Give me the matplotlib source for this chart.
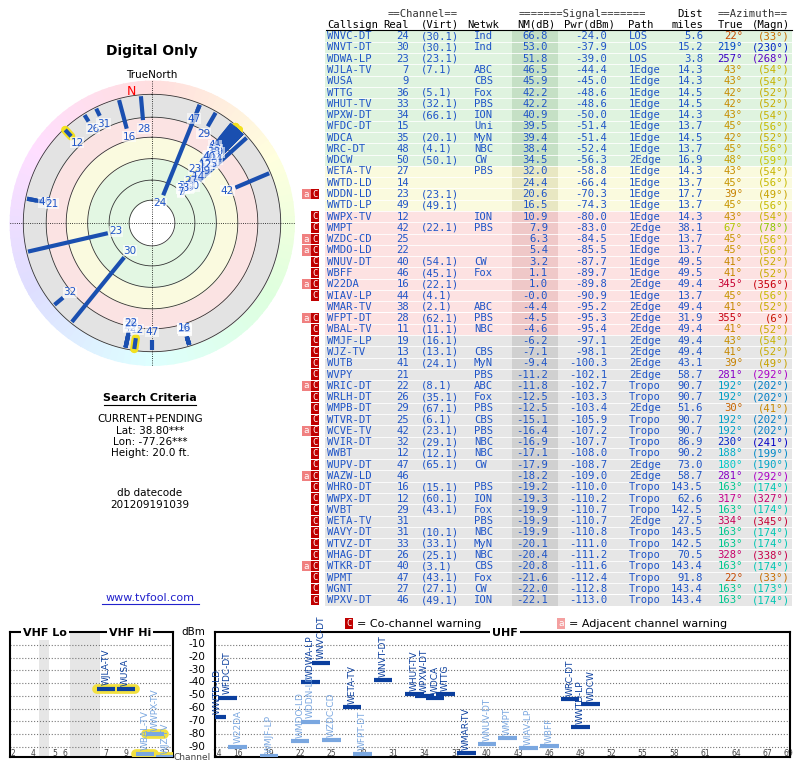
import numpy as np
import matplotlib.pyplot as plt
import colorsys

# ---- station data ----
callsign = ['WNVC-DT','WNVT-DT','WDWA-LP','WJLA-TV','WUSA','WTTG','WHUT-TV','WPXW-DT','WFDC-DT','WDCA',
            'WRC-DT','WDCW','WETA-TV','WWTD-LD','WDDN-LD','WWTD-LP','WWPX-TV','WMPT','WZDC-CD','WMDO-LD',
            'WNUV-DT','WBFF','W22DA','WIAV-LP','WMAR-TV','WFPT-DT','WBAL-TV','WMJF-LP','WJZ-TV','WUTB',
            'WVPY','WRIC-DT','WRLH-DT','WMPB-DT','WTVR-DT','WCVE-TV','WVIR-DT','WWBT','WUPV-DT','WAZW-LD',
            'WHRO-DT','WWPX-DT','WVBT','WETA-TV','WAVY-DT','WTVZ-DT','WHAG-DT','WTKR-DT','WPMT','WGNT','WPXV-DT']
real = [24,30,23,7,9,36,33,34,15,35,48,50,27,14,23,49,12,42,25,22,40,46,16,44,38,28,11,19,13,41,
        21,22,26,29,25,42,32,12,47,46,16,12,29,31,31,33,26,40,47,27,46]
virt = ['30.1','30.1','23.1','7.1','','5.1','32.1','66.1','','20.1','4.1','50.1','','','23.1','49.1','','22.1','','',
        '54.1','45.1','22.1','4.1','2.1','62.1','11.1','16.1','13.1','24.1','','8.1','35.1','67.1','6.1','23.1',
        '29.1','12.1','65.1','','15.1','60.1','43.1','','10.1','33.1','25.1','3.1','43.1','27.1','49.1']
netwk = ['Ind','Ind','','ABC','CBS','Fox','PBS','ION','Uni','MyN','NBC','CW','PBS','','','','ION','PBS','','',
         'CW','Fox','','','ABC','PBS','NBC','','CBS','MyN','PBS','ABC','Fox','PBS','CBS','PBS','NBC','NBC','CW','',
         'PBS','ION','Fox','PBS','NBC','MyN','NBC','CBS','Fox','CW','ION']
nm = [66.8,53.0,51.8,46.5,45.9,42.2,42.2,40.9,39.5,39.4,38.4,34.5,32.0,24.4,20.6,16.5,10.9,7.9,6.3,5.4,
      3.2,1.1,1.0,-0.0,-4.4,-4.5,-4.6,-6.2,-7.1,-9.4,-11.2,-11.8,-12.5,-12.5,-15.1,-16.4,-16.9,-17.1,-17.9,-18.2,
      -19.2,-19.3,-19.9,-19.9,-19.9,-20.1,-20.4,-20.8,-21.6,-22.0,-22.1]
pwr = [-24.0,-37.9,-39.0,-44.4,-45.0,-48.6,-48.6,-50.0,-51.4,-51.4,-52.4,-56.3,-58.8,-66.4,-70.3,-74.3,-80.0,-83.0,-84.5,-85.5,
       -87.7,-89.7,-89.8,-90.9,-95.2,-95.3,-95.4,-97.1,-98.1,-100.3,-102.1,-102.7,-103.3,-103.4,-105.9,-107.2,-107.7,-108.0,-108.7,-109.0,
       -110.0,-110.2,-110.7,-110.7,-110.8,-111.0,-111.2,-111.6,-112.4,-112.8,-113.0]
path = ['LOS','LOS','LOS'] + ['1Edge']*8 + ['2Edge','1Edge','1Edge','1Edge','1Edge','1Edge','2Edge','1Edge','1Edge',
        '1Edge','1Edge','2Edge','1Edge','2Edge','2Edge','2Edge','2Edge','2Edge','2Edge','2Edge','Tropo','Tropo','2Edge',
        'Tropo','Tropo','Tropo','Tropo','2Edge','2Edge','Tropo','Tropo','Tropo','2Edge','Tropo','Tropo','Tropo','Tropo',
        'Tropo','Tropo','Tropo']
dist = [5.6,15.2,3.8,14.3,14.3,14.5,14.5,14.3,13.7,14.5,13.7,16.9,14.3,13.7,17.7,13.7,14.3,38.1,13.7,13.7,
        49.5,49.5,49.4,13.7,49.4,31.9,49.4,49.4,49.4,43.1,58.7,90.7,90.7,51.6,90.7,90.7,86.9,90.2,73.0,58.7,
        143.5,62.6,142.5,27.5,143.5,142.5,70.5,143.4,91.8,143.4,143.4]
az_true = [22,219,257,43,43,42,42,43,45,42,45,48,43,45,39,45,43,67,45,45,41,41,345,45,41,355,41,43,41,39,
           281,192,192,30,192,192,230,188,180,281,163,317,163,334,163,163,328,163,22,163,163]
az_magn = [33,230,268,54,54,52,52,54,56,52,56,59,54,56,49,56,54,78,56,56,52,52,356,56,52,6,52,54,52,49,
           292,202,202,41,202,202,241,199,190,292,174,327,174,345,174,174,338,174,33,173,174]
flags = ['']*14 + ['aC','','C','C','aC','aC','C','C','aC','C','','aC','C','C','C','C','C','aC','C','C','C','aC',
                   'C','C','C','aC','C','C','C','C','C','C','C','aC','C','C','C']

vhf_tick_ch = [2, 4, 5, 6, 7, 9, 11, 13]
uhf_tick_ch = [14, 16, 19, 22, 25, 28, 31, 34, 37, 40, 43, 46, 49, 52, 55, 58, 61, 64, 67, 69]
dbm_ticks = [-10, -20, -30, -40, -50, -60, -70, -80, -90]

BLUE = '#1f55c8'
DARK = '#0b3f9e'
LIGHT = '#7aa7e0'
mono = 'DejaVu Sans Mono'
FS = 7.6


def az_color(a, v=0.78, s=1.0):
    return colorsys.hsv_to_rgb((a % 360) / 360.0, s, v)


def row_bg(n):
    if n > 34:
        return '#dff3df', '#c5e0c5'
    if n > 14:
        return '#fafade', '#e8e7c2'
    if n > -5:
        return '#fde2e2', '#efc8c8'
    return '#e6e6e6', '#d0d0d0'


fig = plt.figure(figsize=(8, 7.68), dpi=100)
ax_t = fig.add_axes([0, 0, 1, 1])
ax_t.set_xlim(0, 800)
ax_t.set_ylim(768, 0)
ax_t.axis('off')

# ---- table ----
y0, rh = 30.5, 11.28
ax_t.text(423, 14, '==Channel==', family=mono, size=FS, ha='center', va='center', color='#333333')
ax_t.text(582, 14, '=======Signal=======', family=mono, size=FS, ha='center', va='center', color='#333333')
ax_t.text(690, 14, 'Dist', family=mono, size=FS, ha='center', va='center')
ax_t.text(753, 14, '==Azimuth==', family=mono, size=FS, ha='center', va='center', color='#333333')
for x, t, ha in [(327, 'Callsign', 'left'), (409, 'Real', 'right'), (421, '(Virt)', 'left'), (467, 'Netwk', 'left'),
                 (556, 'NM(dB)', 'right'), (615, 'Pwr(dBm)', 'right'), (628, 'Path', 'left'), (703, 'miles', 'right'),
                 (743, 'True', 'right'), (790, '(Magn)', 'right')]:
    ax_t.text(x, 24.5, t, family=mono, size=FS, ha=ha, va='center')
ax_t.plot([326, 792], [30, 30], color='k', lw=0.8)

for i in range(len(callsign)):
    top = y0 + i * rh
    yc = top + rh / 2
    bg, bg2 = row_bg(nm[i])
    ax_t.add_patch(plt.Rectangle((325, top), 467, rh, color=bg, lw=0))
    ax_t.add_patch(plt.Rectangle((512, top), 46, rh, color=bg2, lw=0))
    ax_t.plot([325, 792], [top + rh, top + rh], color='white', lw=0.6)
    kw = dict(family=mono, size=FS, va='center')
    ax_t.text(327, yc, callsign[i], color=BLUE, **kw)
    ax_t.text(409, yc, str(real[i]), color=BLUE, ha='right', **kw)
    if virt[i]:
        ax_t.text(421, yc, '(%s)' % virt[i], color=BLUE, **kw)
    ax_t.text(474, yc, netwk[i], color=BLUE, **kw)
    ax_t.text(548, yc, '%.1f' % nm[i], color=BLUE, ha='right', **kw)
    ax_t.text(607, yc, '%.1f' % pwr[i], color=BLUE, ha='right', **kw)
    ax_t.text(629, yc, path[i], color=BLUE, **kw)
    ax_t.text(703, yc, '%.1f' % dist[i], color=BLUE, ha='right', **kw)
    ax_t.text(743, yc, '%d°' % az_true[i], color=az_color(az_true[i]), ha='right', **kw)
    ax_t.text(790, yc, '(%d°)' % az_magn[i], color=az_color(az_magn[i]), ha='right', **kw)
    if 'C' in flags[i]:
        ax_t.add_patch(plt.Rectangle((311, top + 0.5), 8, rh - 1, color='#c00000', lw=0))
        ax_t.text(315, yc, 'C', family=mono, size=6.5, color='white', va='center', ha='center')
    if 'a' in flags[i]:
        ax_t.add_patch(plt.Rectangle((302, top + 0.5), 9, rh - 1, color='#f08080', lw=0))
        ax_t.text(306.5, yc, 'a', family=mono, size=6.5, color='white', va='center', ha='center')

# ---- left texts ----
ax_t.text(152, 51, 'Digital Only', size=10, weight='bold', ha='center', va='center')
ax_t.text(152, 75, 'TrueNorth', size=7.5, ha='center', va='center')
ax_t.text(150, 398, 'Search Criteria', size=8, weight='bold', ha='center', va='center')
ax_t.plot([104, 196], [405, 405], color='k', lw=0.8)
for k, t in enumerate(['CURRENT+PENDING', 'Lat: 38.80***', 'Lon: -77.26***', 'Height: 20.0 ft.']):
    ax_t.text(150, 419 + k * 11.5, t, size=7.5, ha='center', va='center')
ax_t.text(150, 493, 'db datecode', size=7.5, ha='center', va='center')
ax_t.text(150, 505, '201209191039', size=7.5, ha='center', va='center')
ax_t.text(150, 598, 'www.tvfool.com', size=8, color='#2222cc', ha='center', va='center')
ax_t.plot([102, 199], [604, 604], color='#2222cc', lw=0.8)

# legend line for bottom panel
ax_t.add_patch(plt.Rectangle((345, 618), 8, 11, color='#c00000', lw=0))
ax_t.text(349, 624, 'C', family=mono, size=6.5, color='white', ha='center', va='center')
ax_t.text(357, 624, '= Co-channel warning', size=8, va='center')
ax_t.add_patch(plt.Rectangle((557, 618), 8, 11, color='#f4a0a0', lw=0))
ax_t.text(561, 624, 'a', family=mono, size=6.5, color='white', ha='center', va='center')
ax_t.text(569, 624, '= Adjacent channel warning', size=8, va='center')

# ---- radar ----
cx, cy, R = 152, 223, 143
axr = fig.add_axes([(cx - R) / 800, 1 - (cy + R) / 768, 2 * R / 800, 2 * R / 768], projection='polar')
axr.set_theta_zero_location('N')
axr.set_theta_direction(-1)
axr.set_ylim(0, 1)
axr.axis('off')
th = np.linspace(0, 2 * np.pi, 361)
for a in range(0, 360, 3):
    t = np.radians([a, a + 3.5])
    axr.fill_between(t, 0.9, 1.0, color=az_color(a, v=1.0, s=0.13), lw=0)
for r0, r1, c in [(0.74, 0.9, '#e3e3e3'), (0.6, 0.74, '#fbe3e3'), (0.45, 0.6, '#fafadf'), (0.16, 0.45, '#e3f7e3')]:
    axr.fill_between(th, r0, r1, color=c, lw=0)
for r in [0.16, 0.3, 0.45, 0.6, 0.74, 0.9]:
    axr.plot(th, np.full_like(th, r), color='#333333', lw=0.6)
for a in [0, 90, 180, 270]:
    axr.plot([np.radians(a)] * 2, [0, 1], color='k', lw=0.6, ls=':')
axr.text(np.radians(-9), 0.93, 'N', color='red', size=9, ha='center', va='center')

# bar starts at a radius set by noise margin and runs out to the edge of the grey ring
rad = np.clip(0.69 - 0.0072 * np.array(nm), 0.18, 0.88)
order = np.argsort(nm)
for i in order:
    t = np.radians(az_true[i])
    if real[i] <= 13:
        axr.plot([t, t], [rad[i], 0.89], color='#f2e020', lw=6, solid_capstyle='round', zorder=2)
    axr.plot([t, t], [rad[i], 0.89], color='#1a4fb0', lw=3, solid_capstyle='butt', zorder=3)
for i in order:
    t = np.radians(az_true[i])
    axr.text(t, rad[i] - 0.06, str(real[i]), color=BLUE, size=7.5, ha='center', va='center', zorder=4,
             bbox=dict(boxstyle='square,pad=0.05', fc='white', ec='none', alpha=0.6))

# ---- bottom spectrum ----
vhf_x = lambda ch: np.interp(ch, [2, 4, 5, 6, 7, 13], [1.3, 3.3, 5.5, 6.5, 10.6, 16.5])
axv = fig.add_axes([10 / 800, 1 - 757 / 768, 163 / 800, 125 / 768])
axu = fig.add_axes([215 / 800, 1 - 757 / 768, 575 / 800, 125 / 768])
axv.set_xlim(1.0, 17.3)
axu.set_xlim(13.8, 69.2)
for ax in (axv, axu):
    ax.set_ylim(-98, 0)
    ax.set_yticks(dbm_ticks)
    ax.yaxis.grid(True, ls=':', color='#777777', lw=0.8)
    ax.tick_params(axis='y', length=0, labelleft=False)
    ax.tick_params(axis='x', length=0, labelsize=5.5, pad=-6, colors='#444444')
    for s in ax.spines.values():
        s.set_linewidth(1.5)
axv.axvspan(3.9, 4.9, color='#e6e6e6', lw=0)
axv.axvspan(7.0, 10.0, color='#e6e6e6', lw=0)
axv.set_xticks(vhf_x(vhf_tick_ch))
axv.set_xticklabels([str(c) for c in vhf_tick_ch])
axu.set_xticks(uhf_tick_ch)
axu.set_xticklabels([str(c) for c in uhf_tick_ch])

for i in range(len(callsign)):
    if pwr[i] < -99:
        continue
    col = DARK if flags[i] == '' else LIGHT
    if real[i] <= 13:
        ax, x, hw = axv, vhf_x(real[i]), 0.9
        ax.plot([x - hw, x + hw], [pwr[i]] * 2, color='#f2e040', lw=7, solid_capstyle='round', zorder=3)
    else:
        ax, x, hw = axu, real[i], 0.9
    ax.plot([x - hw, x + hw], [pwr[i]] * 2, color=col, lw=3, solid_capstyle='butt', zorder=4)
    ax.text(x, pwr[i] + 2.5, callsign[i], rotation=90, color=col, size=6.5, ha='center', va='bottom', zorder=5)

# band names sit on top of the panel frames
for lab, x in [('VHF Lo', 45), ('VHF Hi', 130), ('UHF', 505)]:
    fig.text(x / 800, 1 - 633 / 768, lab, size=8, weight='bold', ha='center', va='center',
             bbox=dict(fc='white', ec='none', pad=1.5), zorder=10)
ax_t.text(193, 632, 'dBm', size=7.5, ha='center', va='center')
for d in dbm_ticks:
    ax_t.text(205, 631 + (-d) * 126 / 98, str(d), size=7.5, ha='right', va='center')
ax_t.text(192, 757, 'Channel', size=6.5, ha='center', va='center', color='#444444')

fig.savefig('out.png', dpi=100)
